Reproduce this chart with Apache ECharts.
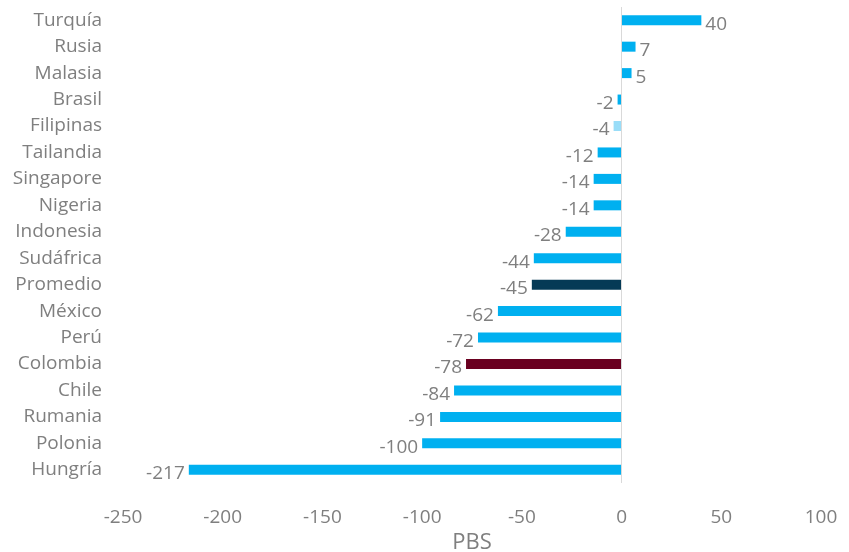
<!DOCTYPE html>
<html><head><meta charset="utf-8">
<script src="https://cdn.jsdelivr.net/npm/echarts@6/dist/echarts.min.js"></script>
<style>html,body{margin:0;padding:0;background:#fff}#c{width:849px;height:552px}</style>
</head><body><div id="c"></div>
<script>
const categories = ["Turquía","Rusia","Malasia","Brasil","Filipinas","Tailandia","Singapore","Nigeria","Indonesia","Sudáfrica","Promedio","México","Perú","Colombia","Chile","Rumania","Polonia","Hungría"];
const values = [40,7,5,-2,-4,-12,-14,-14,-28,-44,-45,-62,-72,-78,-84,-91,-100,-217];
const xTicks = {min:-250, max:100, interval:50};
const axisTitle = "PBS";
const colorMain = "#00B0F0";
const colorSpecial = {"Filipinas":"#99DDF8","Promedio":"#053A56","Colombia":"#6A0020"};
const font = "'Open Sans', sans-serif";
const grey = "#7F7F7F";

const chart = echarts.init(document.getElementById('c'));
chart.setOption({
  animation:false,
  grid:{left:123,right:28,top:7,bottom:69,containLabel:false,outerBoundsMode:'none'},
  xAxis:{type:'value',min:xTicks.min,max:xTicks.max,interval:xTicks.interval,
    splitLine:{show:false},axisLine:{show:false},axisTick:{show:false},
    axisLabel:{color:grey,fontSize:19,fontFamily:font,margin:25},
    name:axisTitle,nameLocation:'middle',nameGap:49,
    nameTextStyle:{color:grey,fontSize:22,fontFamily:font}},
  yAxis:{type:'category',inverse:true,data:categories,
    axisLine:{show:false},axisTick:{show:false},splitLine:{show:false},
    axisLabel:{color:grey,fontSize:19,fontFamily:font,margin:21}},
  series:[{type:'bar',barWidth:10,
    data:values.map((v,i)=>({value:v,itemStyle:{color:colorSpecial[categories[i]]||colorMain},
      label:{position:v<0?'left':'right'}})),
    label:{show:true,color:grey,fontSize:19,fontFamily:font,offset:[0,4],distance:4},
    markLine:{silent:true,symbol:'none',label:{show:false},
      lineStyle:{color:'#D9D9D9',type:'solid',width:1},data:[{xAxis:0}]}
  }]
});
</script></body></html>
